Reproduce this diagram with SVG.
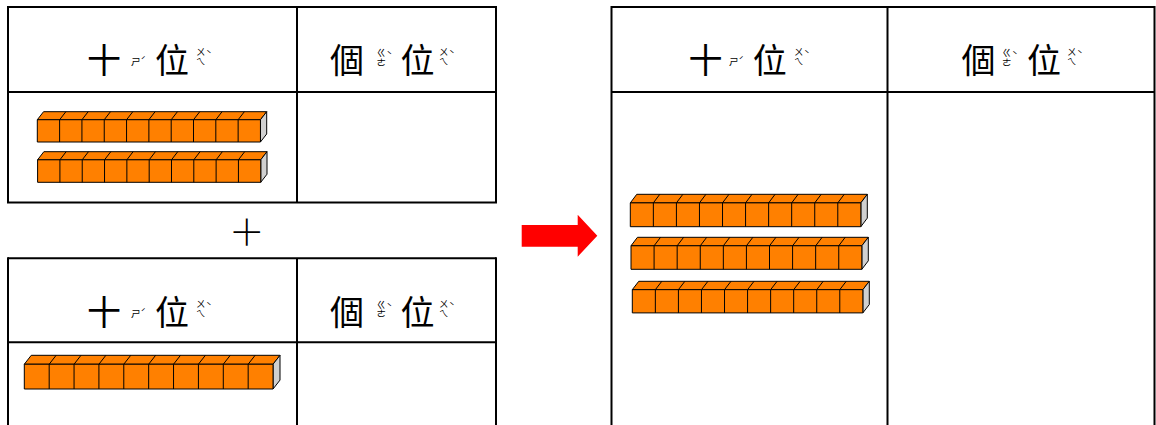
<svg xmlns="http://www.w3.org/2000/svg" xmlns:xlink="http://www.w3.org/1999/xlink" width="1156" height="425" viewBox="0 0 1156 425">
<style>
.tbl{fill:none;stroke:#000;stroke-width:2}
.hz{font-family:"Noto Sans CJK TC","Noto Sans CJK SC",sans-serif;font-size:34px;fill:#000;text-anchor:middle}
.bp{font-family:"Noto Sans CJK TC","Noto Sans CJK SC",sans-serif;font-size:9.5px;fill:#000}
.bv{font-family:"Noto Sans CJK TC","Noto Sans CJK SC",sans-serif;font-size:9.5px;fill:#000;writing-mode:vertical-rl;text-orientation:upright}
.plus{font-family:"Noto Sans CJK TC","Noto Sans CJK SC",sans-serif;font-size:36px;font-weight:300;fill:#000;text-anchor:middle}
.face{fill:#FF8000;stroke:#000;stroke-width:1;vector-effect:non-scaling-stroke;stroke-linejoin:round}
.side{fill:#D0D0D0;stroke:#000;stroke-width:1;vector-effect:non-scaling-stroke;stroke-linejoin:round}
.div{fill:none;stroke:#000;stroke-width:1;vector-effect:non-scaling-stroke}
</style>
<defs>
<symbol id="rod" viewBox="0 -9 257 34" preserveAspectRatio="none" overflow="visible">
<polygon class="face" points="0,0 7,-9 257,-9 250,0"/>
<polygon class="side" points="250,0 257,-9 257,16 250,25"/>
<rect class="face" x="0" y="0" width="250" height="25"/>
<path class="div" d="M25,25V0l7,-9M50,25V0l7,-9M75,25V0l7,-9M100,25V0l7,-9M125,25V0l7,-9M150,25V0l7,-9M175,25V0l7,-9M200,25V0l7,-9M225,25V0l7,-9"/>
</symbol>
</defs>

<g id="table-top">
<rect class="tbl" x="8" y="7" width="488" height="195.5"/>
<line class="tbl" x1="297" y1="7" x2="297" y2="202.5"/>
<line class="tbl" x1="8" y1="92" x2="496" y2="92"/>
<g id="t1-tens-label">
<text class="hz" x="104" y="73">十</text>
<text class="bp" x="131" y="65" font-size="10">ㄕ<tspan dy="-1" font-size="9">ˊ</tspan></text>
<text class="hz" x="172" y="73">位</text>
<text class="bv" x="200.8" y="47">ㄨㄟ</text>
<text class="bp" x="206" y="58">ˋ</text>
</g>
<g id="t1-ones-label">
<text class="hz" x="347" y="73">個</text>
<text class="bv" x="381.2" y="47.7">ㄍㄜ</text>
<text class="bp" x="386.5" y="59">ˋ</text>
<text class="hz" x="417.5" y="73">位</text>
<text class="bv" x="443.8" y="47">ㄨㄟ</text>
<text class="bp" x="449" y="58">ˋ</text>
</g>
<use xlink:href="#rod" x="37.3" y="111.7" width="229.4" height="30.3"/>
<use xlink:href="#rod" x="37.6" y="151.7" width="229.4" height="30.6"/>
</g>

<g id="plus-sign">
<text class="plus" x="246.7" y="246">＋</text>
</g>

<g id="table-bottom">
<line class="tbl" x1="8" y1="258.3" x2="496" y2="258.3"/>
<line class="tbl" x1="8" y1="257.3" x2="8" y2="426"/>
<line class="tbl" x1="496" y1="257.3" x2="496" y2="426"/>
<line class="tbl" x1="297" y1="258.3" x2="297" y2="426"/>
<line class="tbl" x1="8" y1="342.3" x2="496" y2="342.3"/>
<g id="t2-tens-label">
<text class="hz" x="104" y="324.7">十</text>
<text class="bp" x="131" y="316.7" font-size="10">ㄕ<tspan dy="-1" font-size="9">ˊ</tspan></text>
<text class="hz" x="172" y="324.7">位</text>
<text class="bv" x="200.8" y="298.7">ㄨㄟ</text>
<text class="bp" x="206" y="309.7">ˋ</text>
</g>
<g id="t2-ones-label">
<text class="hz" x="347" y="324.7">個</text>
<text class="bv" x="381.2" y="299.4">ㄍㄜ</text>
<text class="bp" x="386.5" y="310.7">ˋ</text>
<text class="hz" x="417.5" y="324.7">位</text>
<text class="bv" x="443.8" y="298.7">ㄨㄟ</text>
<text class="bp" x="449" y="309.7">ˋ</text>
</g>
<use xlink:href="#rod" x="24.3" y="355.3" width="255.7" height="33.7"/>
</g>

<g id="arrow">
<polygon points="521.7,225 577.7,225 577.7,214.7 597.3,235.7 577.7,256.7 577.7,246.7 521.7,246.7" fill="#FF0000"/>
</g>

<g id="table-result">
<line class="tbl" x1="611.5" y1="7" x2="1155" y2="7"/>
<line class="tbl" x1="611.5" y1="6" x2="611.5" y2="426"/>
<line class="tbl" x1="1154.5" y1="6" x2="1154.5" y2="426"/>
<line class="tbl" x1="887.5" y1="7" x2="887.5" y2="426"/>
<line class="tbl" x1="611.5" y1="92" x2="1155" y2="92"/>
<g id="t3-tens-label">
<text class="hz" x="705.5" y="73">十</text>
<text class="bp" x="729" y="65" font-size="10">ㄕ<tspan dy="-1" font-size="9">ˊ</tspan></text>
<text class="hz" x="769.7" y="73">位</text>
<text class="bv" x="798.8" y="47">ㄨㄟ</text>
<text class="bp" x="804" y="58">ˋ</text>
</g>
<g id="t3-ones-label">
<text class="hz" x="978.5" y="73">個</text>
<text class="bv" x="1006.8" y="47.7">ㄍㄜ</text>
<text class="bp" x="1012" y="59">ˋ</text>
<text class="hz" x="1044" y="73">位</text>
<text class="bv" x="1071.8" y="47">ㄨㄟ</text>
<text class="bp" x="1077" y="58">ˋ</text>
</g>
<use xlink:href="#rod" x="630.3" y="194.3" width="237" height="32.4"/>
<use xlink:href="#rod" x="631" y="237.3" width="237.3" height="32"/>
<use xlink:href="#rod" x="632.3" y="281.3" width="237" height="31.6"/>
</g>
</svg>
